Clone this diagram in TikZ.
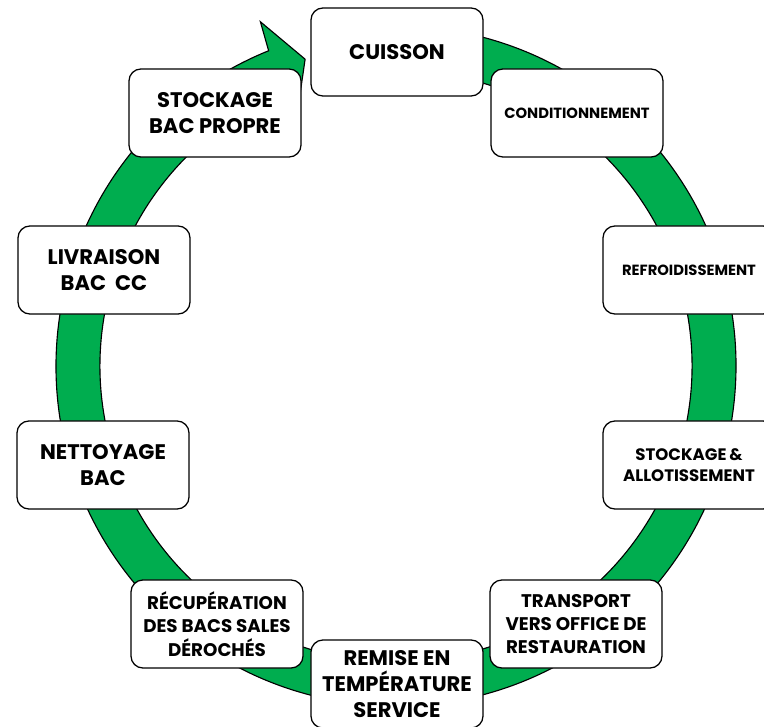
\documentclass[tikz,border=0pt]{standalone}
\usepackage{fontspec}
\setmainfont{Poppins}
\definecolor{ringgreen}{RGB}{0,173,79}

\begin{document}
\begin{tikzpicture}[x=0.025cm, y=0.025cm,
  stagebox/.style={draw=black, line width=0.9pt, fill=white,
    rounded corners=0.3cm, minimum width=4.3cm, minimum height=2.2cm,
    align=center, inner sep=2pt},
  bigtext/.style={font=\bfseries\fontsize{15}{18.5}\selectfont},
  midtext/.style={font=\bfseries\fontsize{13}{16.5}\selectfont},
  smalltext/.style={font=\bfseries\fontsize{10.5}{14}\selectfont}]

  \useasboundingbox (0,0) rectangle (764,726);

  % green cycle with arrow head
  \begin{scope}[shift={(396,360)}]
    \filldraw[fill=ringgreen, draw=black, line width=0.8pt]
      (85:340) arc[start angle=85, end angle=-248, radius=340]
      -- (-248.5:370) -- (-253.5:320) -- (-248.5:270) -- (-248:296)
      arc[start angle=-248, end angle=85, radius=296] -- cycle;
  \end{scope}

  % steps of the cycle
  \node[stagebox, bigtext]   (cuisson)   at (397,674) {CUISSON};
  \node[stagebox, smalltext] (condit)    at (577,613) {CONDITIONNEMENT};
  \node[stagebox, smalltext] (refroid)   at (689,456) {REFROIDISSEMENT};
  \node[stagebox, font=\bfseries\fontsize{11.8}{14.5}\selectfont]
                             (allot)     at (689,261) {STOCKAGE\,\&\\ALLOTISSEMENT};
  \node[stagebox, midtext]   (transport) at (576,102) {TRANSPORT\\VERS OFFICE DE\\RESTAURATION};
  \node[stagebox, bigtext]   (remise)    at (397,42)  {REMISE EN\\TEMPÉRATURE\\SERVICE};
  \node[stagebox, midtext]   (recup)     at (217,102) {RÉCUPÉRATION\\DES BACS SALES\\DÉROCHÉS};
  \node[stagebox, bigtext]   (nettoyage) at (103,261) {NETTOYAGE\\BAC};
  \node[stagebox, bigtext]   (livraison) at (104,456) {LIVRAISON\\BAC\ \ CC};
  \node[stagebox, bigtext]   (stockbac)  at (215,613) {STOCKAGE\\BAC PROPRE};
\end{tikzpicture}
\end{document}
